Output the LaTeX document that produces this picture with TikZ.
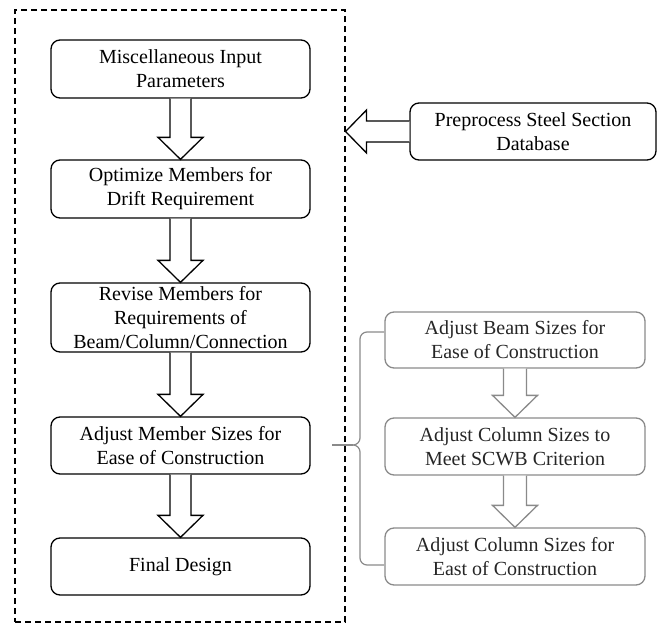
\documentclass[tikz,border=0pt]{standalone}
\usepackage{fontspec}
\setmainfont{Liberation Serif}
\usetikzlibrary{calc}

\definecolor{subgrey}{HTML}{8A8A8A}

\tikzset{
  flowbox/.style={draw, rounded corners=9pt, line width=1.3pt, align=center,
    inner sep=0pt, minimum width=259pt,
    font=\fontsize{20}{24}\selectfont},
  subbox/.style={flowbox, draw=subgrey, text=black!85, minimum width=260pt},
  frame/.style={draw, dashed, dash pattern=on 6pt off 4pt, line width=1.1pt,
    inner sep=0pt},
  blockarrow/.style={draw=#1, line width=1.3pt, fill=white, line join=miter},
  blockarrow/.default=black,
  bracket/.style={draw=subgrey, line width=1.2pt}
}

% hollow block arrow pointing down, from the bottom of #2 to the top of #3
\newcommand\blockdown[4][black]{%
  \path[blockarrow=#1] let \p1=(#2.south), \p2=(#3.north) in
    (\x1-#4,\y1) -- (\x1-#4,\y2+22pt) -- (\x1-22.5pt,\y2+22pt) -- (\x1,\y2)
    -- (\x1+22.5pt,\y2+22pt) -- (\x1+#4,\y2+22pt) -- (\x1+#4,\y1);
}

\begin{document}
\begin{tikzpicture}[x=1pt, y=-1pt]
  \useasboundingbox (0,0) rectangle (657,624);

  % main procedure
  \node[frame, minimum width=330pt, minimum height=612pt] (main) at (180,316) {};

  \node[flowbox, minimum height=58pt] (misc)  at (180.5,69)   {Miscellaneous Input\\Parameters};
  \node[flowbox, minimum height=58pt] (drift) at (180.5,189)  {Optimize Members for\\Drift Requirement};
  \node[flowbox, minimum height=69pt] (rev)   at (180.5,317.5){Revise Members for\\Requirements of\\Beam/Column/Connection};
  \node[flowbox, minimum height=57pt] (adj)   at (180.5,445.5){Adjust Member Sizes for\\Ease of Construction};
  \node[flowbox, minimum height=57pt] (final) at (180.5,566.5){Final Design};

  \blockdown{misc}{drift}{10.5pt}
  \blockdown{drift}{rev}{10.5pt}
  \blockdown{rev}{adj}{10.5pt}
  \blockdown{adj}{final}{10.5pt}

  % section database feeding the procedure
  \node[flowbox, minimum width=246pt, minimum height=57pt] (db) at (533,131.5)
    {Preprocess Steel Section\\Database};
  \path[blockarrow] let \p1=(db.west), \p2=(main.east) in
    (\x1,\y1+10.5pt) -- (\x2+21pt,\y1+10.5pt) -- (\x2+21pt,\y1+21.5pt)
    -- (\x2,\y1) -- (\x2+21pt,\y1-21.5pt) -- (\x2+21pt,\y1-10.5pt)
    -- (\x1,\y1-10.5pt);

  % detail of the ease-of-construction step
  \node[subbox, minimum height=56pt] (beam)  at (515,340)   {Adjust Beam Sizes for\\Ease of Construction};
  \node[subbox, minimum height=57pt] (scwb)  at (515,446.5) {Adjust Column Sizes to\\Meet SCWB Criterion};
  \node[subbox, minimum height=57pt] (colea) at (515,556.5) {Adjust Column Sizes for\\East of Construction};

  \blockdown[subgrey]{beam}{scwb}{11.5pt}
  \blockdown[subgrey]{scwb}{colea}{11.5pt}

  % brace grouping the detail steps
  \coordinate (btop) at (384,332);
  \coordinate (bbot) at (384,565);
  \coordinate (btip) at (332,445);
  \draw[bracket] (btop) -- (367,332) to[out=180,in=90] (360,339) -- (360,438)
    to[out=-90,in=0] (353,445) to[out=0,in=90] (360,452) -- (360,558)
    to[out=-90,in=180] (367,565) -- (bbot);
  \draw[bracket] (353,445) -- (btip);
\end{tikzpicture}
\end{document}
